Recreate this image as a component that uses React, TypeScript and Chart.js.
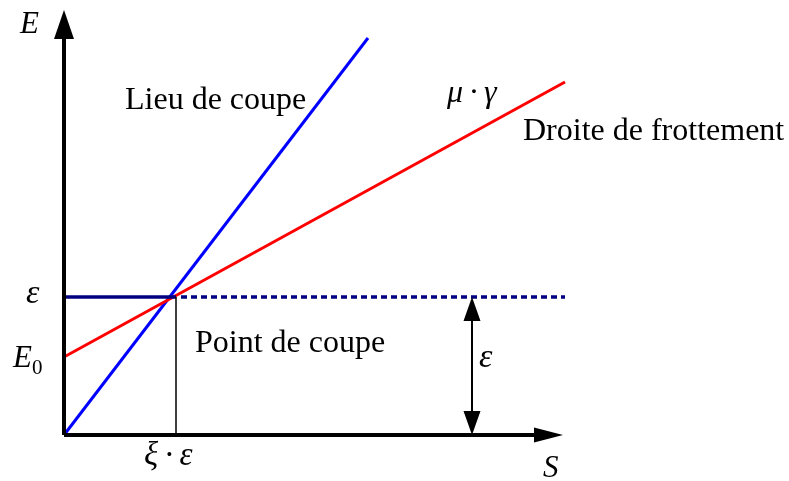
import React, { useEffect, useRef } from "react";
import { Chart, registerables } from "chart.js";

Chart.register(...registerables);

// Data (arbitrary units: origin at 0,0)
const EPS = 1.38; // ε level
const E0 = 0.78; // intercept of friction line
const XI_EPS = 1.12; // ξ·ε abscissa
const lieuDeCoupe = [
  { x: 0, y: 0 },
  { x: 3.04, y: 3.97 },
];
const droiteFrottement = [
  { x: 0, y: E0 },
  { x: 5.01, y: 3.53 },
];
const epsSolid = [
  { x: 0, y: EPS },
  { x: XI_EPS, y: EPS },
];
const epsDashed = [
  { x: 1.17, y: EPS },
  { x: 5.01, y: EPS },
];
const xiLine = [
  { x: XI_EPS, y: EPS },
  { x: XI_EPS, y: 0 },
];
const yAxisLine = [
  { x: 0, y: 0 },
  { x: 0, y: 4.0 },
];
const xAxisLine = [
  { x: 0, y: 0 },
  { x: 4.75, y: 0 },
];
const Y_AXIS_TIP = 4.25;
const X_AXIS_TIP = 4.99;
const DOUBLE_ARROW_X = 4.08;

type Label = { text: string; x: number; y: number; italic: boolean; size: number; sub?: string };
const labels: Label[] = [
  { text: "E", x: -0.44, y: 4.02, italic: true, size: 31 },
  { text: "S", x: 4.79, y: -0.42, italic: true, size: 31 },
  { text: "ε", x: -0.38, y: 1.32, italic: true, size: 34 },
  { text: "E", x: -0.51, y: 0.68, italic: true, size: 31, sub: "0" },
  { text: "ξ\u2009·\u2009ε", x: 0.8, y: -0.3, italic: true, size: 33 },
  { text: "ε", x: 4.15, y: 0.68, italic: true, size: 34 },
  { text: "μ\u2009·\u2009γ", x: 3.83, y: 3.33, italic: true, size: 32 },
  { text: "Lieu de coupe", x: 0.61, y: 3.26, italic: false, size: 32 },
  { text: "Droite de frottement", x: 4.59, y: 2.95, italic: false, size: 32 },
  { text: "Point de coupe", x: 1.31, y: 0.83, italic: false, size: 32 },
];

const FONT = '"Liberation Serif", "Times New Roman", serif';

const annotationPlugin = {
  id: "annotations",
  afterDatasetsDraw(chart: any) {
    const ctx = chart.ctx as CanvasRenderingContext2D;
    const xs = chart.scales.x;
    const ys = chart.scales.y;
    const px = (v: number) => xs.getPixelForValue(v);
    const py = (v: number) => ys.getPixelForValue(v);
    ctx.save();
    ctx.fillStyle = "#000";
    const tri = (pts: number[][]) => {
      ctx.beginPath();
      ctx.moveTo(pts[0][0], pts[0][1]);
      ctx.lineTo(pts[1][0], pts[1][1]);
      ctx.lineTo(pts[2][0], pts[2][1]);
      ctx.closePath();
      ctx.fill();
    };
    const yx = px(0);
    tri([
      [yx, py(Y_AXIS_TIP)],
      [yx - 10, py(Y_AXIS_TIP) + 29],
      [yx + 10, py(Y_AXIS_TIP) + 29],
    ]);
    const xy = py(0);
    tri([
      [px(X_AXIS_TIP), xy],
      [px(X_AXIS_TIP) - 29, xy - 7.5],
      [px(X_AXIS_TIP) - 29, xy + 7.5],
    ]);
    // double arrow for ε
    const dx = px(DOUBLE_ARROW_X);
    const top = py(EPS);
    const bot = py(0);
    ctx.strokeStyle = "#000";
    ctx.lineWidth = 2;
    ctx.beginPath();
    ctx.moveTo(dx, top + 10);
    ctx.lineTo(dx, bot - 10);
    ctx.stroke();
    tri([
      [dx, top],
      [dx - 8.5, top + 24],
      [dx + 8.5, top + 24],
    ]);
    tri([
      [dx, bot],
      [dx - 8.5, bot - 24],
      [dx + 8.5, bot - 24],
    ]);
    // labels
    ctx.textBaseline = "alphabetic";
    ctx.textAlign = "left";
    for (const l of labels) {
      ctx.font = `${l.italic ? "italic " : ""}${l.size}px ${FONT}`;
      const x = px(l.x);
      const y = py(l.y);
      ctx.fillText(l.text, x, y);
      if (l.sub) {
        const w = ctx.measureText(l.text).width;
        ctx.font = `21px ${FONT}`;
        ctx.fillText(l.sub, x + w, y + 7);
      }
    }
    ctx.restore();
  },
};

export default function App() {
  const ref = useRef<HTMLCanvasElement | null>(null);
  useEffect(() => {
    document.body.style.margin = "0";
    if (!ref.current) return;
    const line = (data: any, color: string, width: number, dash: number[] = []) => ({
      data,
      borderColor: color,
      backgroundColor: color,
      borderWidth: width,
      borderDash: dash,
      pointRadius: 0,
      showLine: true,
      fill: false,
      tension: 0,
    });
    const chart = new Chart(ref.current, {
      type: "scatter",
      data: {
        datasets: [
          line(yAxisLine, "#000", 4),
          line(xAxisLine, "#000", 4),
          line(xiLine, "#000", 1.5),
          line(epsSolid, "#000080", 3.5),
          line(epsDashed, "#000080", 3.5, [6, 4]),
          line(droiteFrottement, "#ff0000", 3),
          line(lieuDeCoupe, "#0000ff", 3),
        ] as any,
      },
      options: {
        animation: false,
        responsive: true,
        maintainAspectRatio: false,
        layout: { padding: 0 },
        plugins: { legend: { display: false }, tooltip: { enabled: false } },
        scales: {
          x: { type: "linear", min: -0.64, max: 7.25, display: false },
          y: { type: "linear", min: -0.46, max: 4.35, display: false },
        },
      },
      plugins: [annotationPlugin],
    });
    return () => chart.destroy();
  }, []);
  return (
    <div style={{ position: "fixed", left: 0, top: 0, width: 789, height: 481, background: "#fff" }}>
      <canvas ref={ref} />
    </div>
  );
}
